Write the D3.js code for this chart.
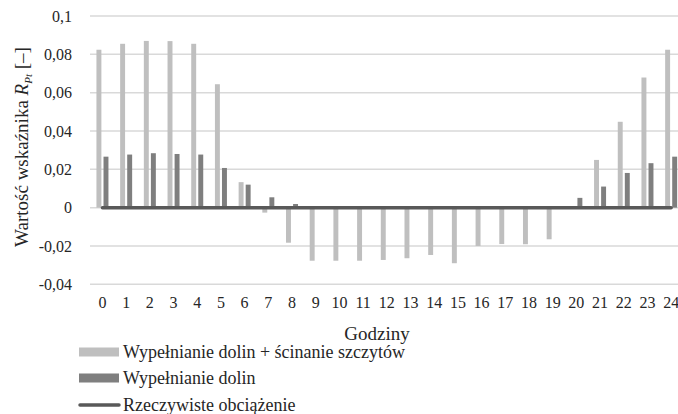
<!DOCTYPE html>
<html>
<head>
<meta charset="utf-8">
<script src="https://cdn.jsdelivr.net/npm/d3@7"></script>
<style>
  html, body { margin: 0; padding: 0; background: #fff; }
  svg { display: block; }
  svg text { font-family: "Liberation Serif", "Tinos", "Times New Roman", "DejaVu Serif", serif; fill: #262626; }
</style>
</head>
<body>
<svg id="chart" width="678" height="414"></svg>
<script>
const hours = ["0","1","2","3","4","5","6","7","8","9","10","11","12","13","14","15","16","17","18","19","20","21","22","23","24"];
const valleyPeak = [0.0824,0.0855,0.0870,0.0869,0.0855,0.0644,0.0133,-0.0026,-0.0183,-0.0277,-0.0277,-0.0277,-0.0273,-0.0264,-0.0247,-0.0290,-0.0200,-0.0190,-0.0191,-0.0165,0,0.0249,0.0448,0.0679,0.0824];
const valleyFill = [0.0266,0.0277,0.0284,0.0280,0.0277,0.0207,0.0120,0.0054,0.0019,0,0,0,0,0,0,0,0,0,0,0,0.0051,0.0110,0.0181,0.0232,0.0266];
const actualLoad = [0,0,0,0,0,0,0,0,0,0,0,0,0,0,0,0,0,0,0,0,0,0,0,0,0];
const yTicks = [-0.04,-0.02,0,0.02,0.04,0.06,0.08,0.1];
const seriesNames = ["Wypełnianie dolin + ścinanie szczytów","Wypełnianie dolin","Rzeczywiste obciążenie"];
const xTitle = "Godziny";

const svg = d3.select("#chart");
const locale = d3.formatLocale({decimal: ",", thousands: " ", grouping: [3], currency: ["", ""], minus: "-"});
const fmt = locale.format("~g");

const x = d3.scaleBand().domain(hours).range([90.6, 683]).paddingInner(0);
const bw = x.bandwidth();
const x1 = d3.scaleBand().domain(["vp","vf"]).range([bw/2 - 6, bw/2 + 6]).paddingInner(0.3);
const y = d3.scaleLinear().domain([-0.04, 0.1]).range([284.3, 16]);

const colors = {vp: "#bfbfbf", vf: "#7f7f7f", line: "#595959"};

// gridlines
svg.append("g").selectAll("line").data(yTicks).join("line")
  .attr("x1", 90).attr("x2", 678)
  .attr("y1", d => y(d)).attr("y2", d => y(d))
  .attr("stroke", "#d9d9d9").attr("stroke-width", 1.5);

// y tick labels
svg.append("g").selectAll("text").data(yTicks).join("text")
  .attr("x", 72).attr("y", d => y(d)).attr("dy", "0.35em")
  .attr("text-anchor", "end").attr("font-size", 16)
  .text(d => fmt(d));

// bars
const bars = svg.append("g");
bars.selectAll("rect.vp").data(valleyPeak).join("rect").attr("class","vp")
  .attr("x", (d,i) => x(hours[i]) + x1("vp"))
  .attr("width", x1.bandwidth())
  .attr("y", d => y(Math.max(0, d)))
  .attr("height", d => Math.abs(y(d) - y(0)))
  .attr("fill", colors.vp);
bars.selectAll("rect.vf").data(valleyFill).join("rect").attr("class","vf")
  .attr("x", (d,i) => x(hours[i]) + x1("vf"))
  .attr("width", x1.bandwidth())
  .attr("y", d => y(Math.max(0, d)))
  .attr("height", d => Math.abs(y(d) - y(0)))
  .attr("fill", colors.vf);

// line series
const line = d3.line().x((d,i) => x(hours[i]) + bw/2).y(d => y(d));
svg.append("path").datum(actualLoad).attr("d", line)
  .attr("fill", "none").attr("stroke", colors.line).attr("stroke-width", 3.5)
  .attr("stroke-linecap", "round");

// x labels
svg.append("g").selectAll("text").data(hours).join("text")
  .attr("x", d => x(d) + bw/2).attr("y", 308)
  .attr("text-anchor", "middle").attr("font-size", 16)
  .text(d => d);

// x title
svg.append("text").attr("x", 377).attr("y", 340)
  .attr("text-anchor", "middle").attr("font-size", 19).text(xTitle);

// y title
const yt = svg.append("text")
  .attr("transform", "translate(28,147) rotate(-90)")
  .attr("text-anchor", "middle").attr("font-size", 19);
yt.append("tspan").text("Wartość wskaźnika  ");
yt.append("tspan").attr("font-style", "italic").text("R");
yt.append("tspan").attr("font-size", 11).attr("font-style", "italic").attr("dy", 4).text("Pt");
yt.append("tspan").attr("dy", -4).text(" [–]");

// legend
const lg = svg.append("g");
const rows = [352, 378, 405];
lg.append("rect").attr("x", 79).attr("y", rows[0]-4.5).attr("width", 40).attr("height", 9).attr("fill", colors.vp);
lg.append("rect").attr("x", 79).attr("y", rows[1]-4.5).attr("width", 40).attr("height", 9).attr("fill", colors.vf);
lg.append("line").attr("x1", 80).attr("x2", 119).attr("y1", rows[2]).attr("y2", rows[2])
  .attr("stroke", colors.line).attr("stroke-width", 3.5).attr("stroke-linecap", "round");
lg.selectAll("text").data(seriesNames).join("text")
  .attr("x", 123).attr("y", (d,i) => rows[i]).attr("dy", "0.35em")
  .attr("font-size", 18).text(d => d);
</script>
</body>
</html>
